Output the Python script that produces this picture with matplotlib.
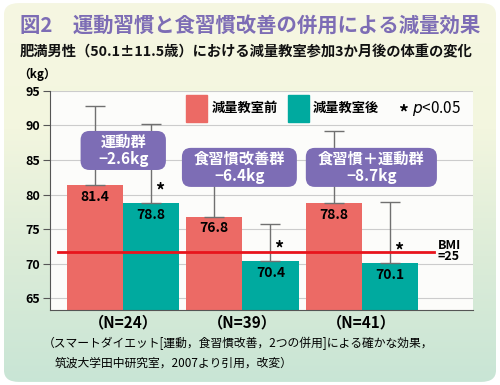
import numpy as np
import matplotlib
matplotlib.use('Agg')
import matplotlib.pyplot as plt
from matplotlib.patches import FancyBboxPatch, Rectangle
from matplotlib.colors import LinearSegmentedColormap

plt.rcParams['font.family'] = ['Noto Sans CJK JP', 'DejaVu Sans']

# data
groups = ['（N=24）', '（N=39）', '（N=41）']
before = [81.4, 76.8, 78.8]
after = [78.8, 70.4, 70.1]
before_err_top = [92.8, 85.0, 89.2]
after_err_top = [90.2, 75.7, 78.9]
box_labels = ['運動群\n−2.6kg', '食習慣改善群\n−6.4kg', '食習慣＋運動群\n−8.7kg']
# box extents (x0, x1, y0, y1) in data units
boxes = [(-0.354, 0.360, 83.55, 89.2), (0.494, 1.456, 81.1, 86.75), (1.531, 2.628, 81.1, 86.75)]
legend_names = ['減量教室前', '減量教室後']
bmi_line = 71.7
yticks = [65, 70, 75, 80, 85, 90, 95]

pink = '#ec6a65'
teal = '#00aa9f'
purple = '#7d6db5'

fig = plt.figure(figsize=(5, 3.85), dpi=100)
fig.patch.set_facecolor('white')

# background panel with gradient
bg = fig.add_axes([0, 0, 1, 1])
bg.set_xlim(0, 1)
bg.set_ylim(0, 1)
bg.axis('off')
cmap = LinearSegmentedColormap.from_list('bg', ['#c8e5d5', '#dcecd8', '#f3f6df', '#f6f7e2'])
grad = np.linspace(0, 1, 256).reshape(-1, 1)
im = bg.imshow(grad, cmap=cmap, origin='lower', extent=[0, 1, 0, 1], aspect='auto')
panel = FancyBboxPatch((0.008, 0.008), 0.984, 0.984, boxstyle='round,pad=0,rounding_size=0.03',
                       transform=bg.transAxes, fc='none', ec='none')
bg.add_patch(panel)
im.set_clip_path(panel)

fig.text(0.04, 0.935, '図2　運動習慣と食習慣改善の併用による減量効果', color=purple,
         fontsize=14.7, fontweight='bold', va='center')
fig.text(0.04, 0.865, '肥満男性（50.1±11.5歳）における減量教室参加3か月後の体重の変化', color='#111111',
         fontsize=10.3, fontweight='bold', va='center')
fig.text(0.075, 0.807, '（kg）', fontsize=8.5, fontweight='bold', va='center', ha='center')

ax = fig.add_axes([0.1, 0.195, 0.846, 0.569])
ax.set_facecolor('#fcfcfa')
x = np.arange(len(groups))
w = 0.47
ax.set_xlim(-0.61, 2.93)
ax.set_ylim(63.3, 95)

for yv in yticks:
    ax.axhline(yv, color='#cccccc', lw=0.8, zorder=1)

ax.bar(x - w / 2, before, w, color=pink, zorder=2)
ax.bar(x + w / 2, after, w, color=teal, zorder=2)

ax.errorbar(x - w / 2, before, yerr=[np.zeros(3), np.array(before_err_top) - np.array(before)],
            fmt='none', ecolor='#707070', elinewidth=1, capsize=7, capthick=1, zorder=3)
ax.errorbar(x + w / 2, after, yerr=[np.zeros(3), np.array(after_err_top) - np.array(after)],
            fmt='none', ecolor='#707070', elinewidth=1, capsize=7, capthick=1, zorder=3)

for xi, v in zip(x - w / 2, before):
    ax.text(xi, v - 0.7, f'{v}', ha='center', va='top', fontsize=10, fontweight='bold', zorder=4)
for xi, v in zip(x + w / 2, after):
    ax.text(xi, v - 0.7, f'{v}', ha='center', va='top', fontsize=10, fontweight='bold', zorder=4)
    ax.text(xi + 0.07, v + 0.4, '*', ha='center', va='bottom', fontsize=13, fontweight='bold', zorder=4)

ax.plot([-0.54, 2.6], [bmi_line, bmi_line], color='#e8141c', lw=2, zorder=3)
ax.text(2.635, bmi_line + 0.1, 'BMI\n=25', fontsize=9, fontweight='bold', va='center',
        ha='left', linespacing=0.85)

# rounded annotation boxes
aspect = (119.5 / 6.91)
for (x0, x1, y0, y1), lab in zip(boxes, box_labels):
    ax.add_patch(FancyBboxPatch((x0, y0), x1 - x0, y1 - y0,
                                boxstyle='round,pad=0,rounding_size=0.075',
                                mutation_aspect=aspect, fc=purple, ec='none', zorder=5))
    ax.text((x0 + x1) / 2, (y0 + y1) / 2, lab, ha='center', va='center', color='white',
            fontsize=11, fontweight='bold', linespacing=1.05, zorder=6)

# legend
ax.add_patch(Rectangle((0.322, 0.858), 0.05, 0.124, transform=ax.transAxes, color=pink, zorder=5))
ax.text(0.383, 0.92, legend_names[0], transform=ax.transAxes, fontsize=9.5, fontweight='bold',
        va='center', zorder=5)
ax.add_patch(Rectangle((0.563, 0.858), 0.05, 0.124, transform=ax.transAxes, color=teal, zorder=5))
ax.text(0.622, 0.92, legend_names[1], transform=ax.transAxes, fontsize=9.5, fontweight='bold',
        va='center', zorder=5)
ax.text(0.822, 0.9, '*', transform=ax.transAxes, fontsize=14, fontweight='bold', va='center', zorder=5)
ax.text(0.855, 0.92, '$p$<0.05', transform=ax.transAxes, fontsize=11, va='center', zorder=5)

ax.set_yticks(yticks)
ax.set_yticklabels([str(t) for t in yticks], fontsize=9, fontweight='bold')
ax.tick_params(axis='y', length=5, color='#555555', pad=2)
ax.set_xticks(x)
ax.set_xticklabels(groups, fontsize=11, fontweight='bold')
ax.tick_params(axis='x', length=0, pad=3)
for s in ['top', 'right']:
    ax.spines[s].set_visible(False)
ax.spines['left'].set_color('#555555')
ax.spines['bottom'].set_color('#555555')

fig.text(0.085, 0.108, '（スマートダイエット[運動，食習慣改善，2つの併用]による確かな効果，', fontsize=8.5,
         va='center')
fig.text(0.11, 0.057, '筑波大学田中研究室，2007より引用，改変）', fontsize=8.5, va='center')

fig.savefig('out.png', dpi=100)
